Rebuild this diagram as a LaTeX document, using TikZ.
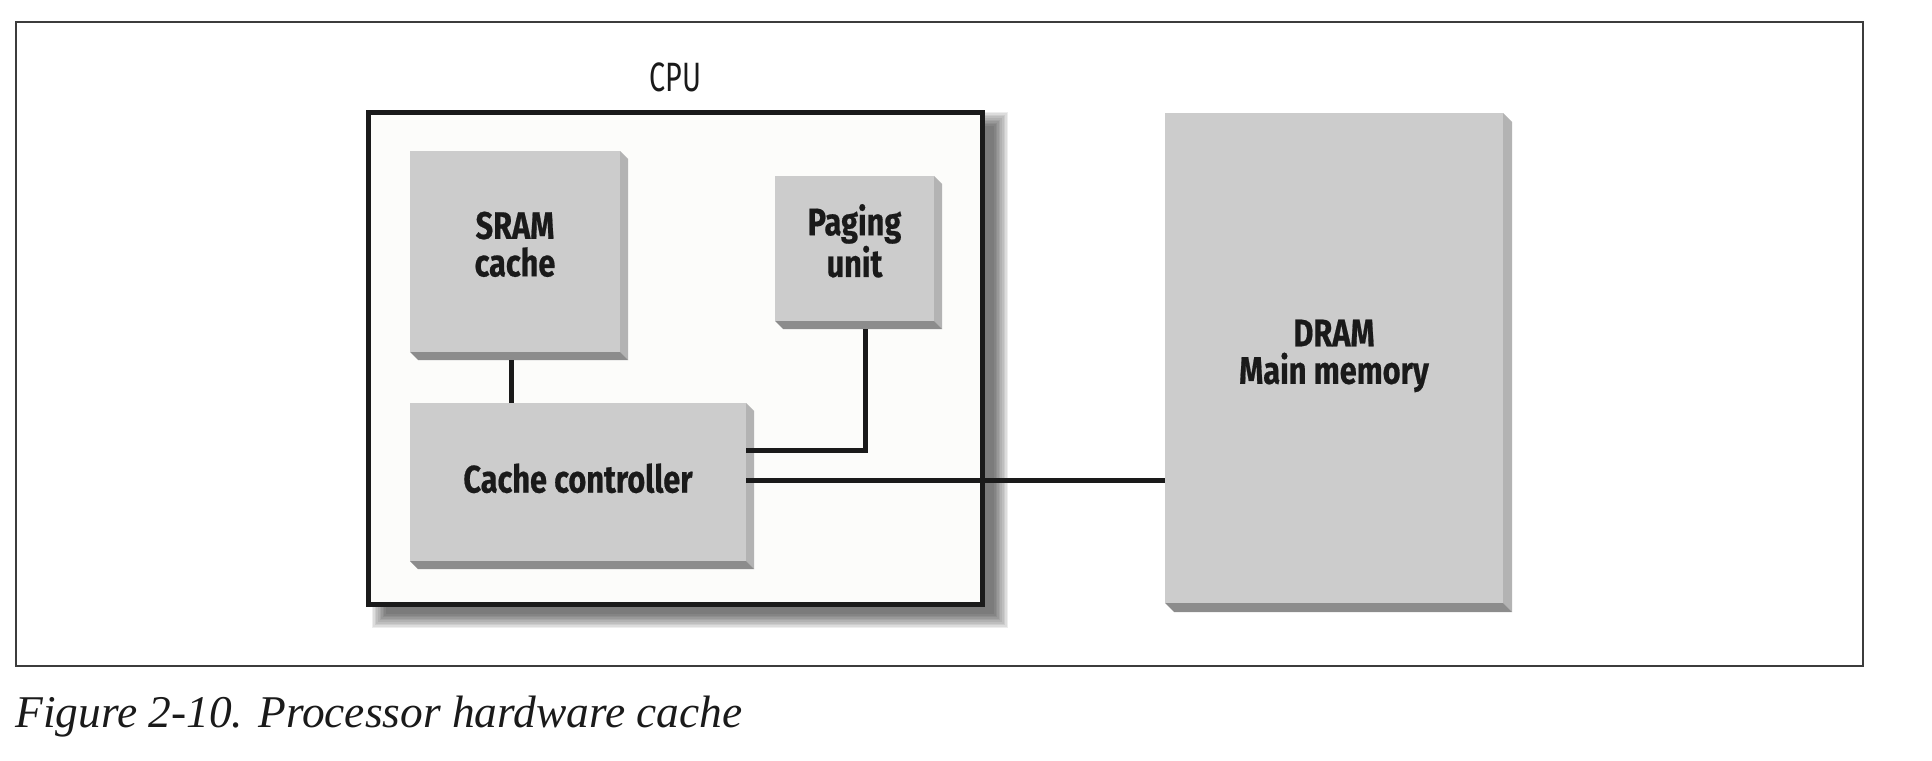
\documentclass[tikz,border=0pt]{standalone}
\usepackage{fontspec}
\usetikzlibrary{calc,backgrounds}
\setmainfont{Liberation Serif}
\newfontfamily\lblfont[FakeStretch=0.8, BoldFeatures={FakeBold=0.5}]{Fira Sans}
\newfontfamily\cpufont[FakeStretch=0.7]{Fira Sans}
\definecolor{boxfront}{RGB}{204,204,204}
\definecolor{boxside}{RGB}{179,179,179}
\definecolor{boxbottom}{RGB}{140,140,140}
\definecolor{cpufill}{RGB}{252,252,250}
\definecolor{ink}{RGB}{26,26,26}
\definecolor{framec}{RGB}{60,60,60}
\newcommand\boxfaces[2]{%
  \fill[boxside] (#1.north east) -- ++(#2,#2) -- ($(#1.south east)+(#2,#2)$) -- (#1.south east) -- cycle;
  \fill[boxbottom] (#1.south west) -- (#1.south east) -- ++(#2,#2) -- ($(#1.south west)+(#2,#2)$) -- cycle;
}
\begin{document}
\begin{tikzpicture}[x=0.5pt,y=-0.5pt,
  face/.style={rectangle, fill=boxfront, draw=none, inner sep=0pt, outer sep=0pt},
  boxtext/.style={font=\lblfont\bfseries\fontsize{19.2pt}{18.75pt}\selectfont, align=center, text=ink, text depth=0pt, inner sep=0pt},
  conn/.style={draw=ink, line width=2.5pt},
]
\useasboundingbox (0,0) rectangle (1932,760);
\draw[framec, line width=1pt] (15.5,21.5) rectangle (1862.5,665.5);

% CPU
\node[draw=ink, line width=2.5pt, fill=cpufill, minimum width=307pt, minimum height=246pt, inner sep=0pt, outer sep=0pt,
  label={[font=\cpufont\fontsize{20.5pt}{22pt}\selectfont, text=ink, anchor=base, yshift=10.5pt, inner sep=0pt]north:CPU}]
  (cpu) at (675.5,358.5) {};
\begin{scope}[on background layer]
  \foreach \i in {0,...,9}
    \fill[black, opacity=0.07] ($(cpu.north west)+(17.5-1.6*\i,13.5-1.6*\i)$) rectangle ($(cpu.south east)+(11.5+1.6*\i,9.5+1.6*\i)$);
\end{scope}

% boxes
\node[face, minimum width=105pt, minimum height=100.5pt,
  label={[boxtext, yshift=3.75pt]center:SRAM\\cache}] (sram) at (515,251.5) {};
\node[face, minimum width=79.5pt, minimum height=72.5pt,
  label={[boxtext, yshift=4pt]center:Paging\\unit}] (pg) at (854.5,248.5) {};
\node[face, minimum width=168pt, minimum height=79pt,
  label={[boxtext, yshift=2pt]center:Cache controller}] (ctrl) at (578,482) {};
\node[face, minimum width=169pt, minimum height=245pt,
  label={[boxtext, yshift=3.15pt]center:DRAM\\Main memory}] (dram) at (1334,358) {};
\boxfaces{sram}{8}
\boxfaces{pg}{8}
\boxfaces{ctrl}{8}
\boxfaces{dram}{9}

% connectors
\draw[conn] ($(sram.south west)+(101.5,8)$) -- ($(ctrl.north west)+(101.5,0)$);
\draw[conn] ($(pg.south west)+(90.5,8)$) |- ($(ctrl.east)+(0,-32)$);
\coordinate (cc) at ($(ctrl.east)+(0,-2)$);
\draw[conn] (cc) -- (cc -| dram.west);

% caption
\node[font=\itshape\fontsize{22.7pt}{28pt}\selectfont, anchor=base west, inner sep=0pt, text=ink] (cap) at (15,727) {Figure 2-10. Processor hardware cache};
\end{tikzpicture}
\end{document}
